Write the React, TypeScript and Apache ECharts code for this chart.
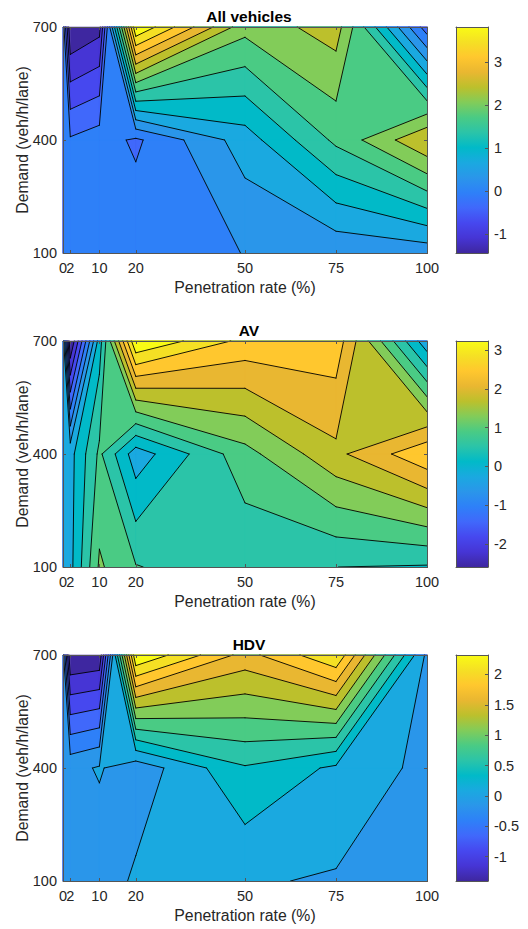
import React, { useEffect, useRef } from "react";
import * as echarts from "echarts";

const penetration = [0, 2, 10, 20, 50, 75, 100];
const demand = [100, 400, 700];
const xTicks = [0, 10, 20, 50, 75, 100];
const xTicksCrowded = [2];
const yTicks = [100, 400, 700];

// rows follow `demand`, columns follow `penetration`
const allVehicles = [
  [0.077, 0.044, 0.06, 0.126, 0.211, 0.283, 0.345],
  [0.044, -0.081, 0.044, -0.179, 0.699, 1.59, 2.484],
  [0.077, -1.43, -1.214, 3.81, 1.96, 2.33, -0.3],
];
const av = [
  [-0.262, -0.156, 1.102, 0.706, 0.378, 0.321, 0.284],
  [-0.298, -0.171, 0.757, -0.251, 0.917, 1.684, 2.43],
  [-0.226, -2.59, 0.138, 3.23, 2.393, 2.361, -0.298],
];
const hdv = [
  [-0.145, -0.168, -0.156, 0.039, 0.018, -0.028, -0.168],
  [-0.145, -0.079, 0.018, -0.158, 0.437, 0.183, -0.075],
  [-0.145, -1.4, -1.354, 2.32, 1.536, 2.064, -0.063],
];
const titles = ["All vehicles", "AV", "HDV"];
const barTicksAll = [-1, 0, 1, 2, 3];
const barTicksAv = [-2, -1, 0, 1, 2, 3];
const barTicksHdv = [-1, -0.5, 0, 0.5, 1, 1.5, 2];

const bandColors = [
  "#3e27a0", "#4635d5", "#4648ef", "#4068fb", "#2e80f8", "#2a96ea", "#1aa9e0", "#01bac8",
  "#2bc4a8", "#4acb84", "#82cc59", "#bcc02c", "#e9b731", "#ffc72e", "#f5e024", "#f9fb15",
];
const LEVEL_COUNT = 15;
const INK = "#262626";
const FRAME = "#555555";
const FONT = "'Liberation Sans', Arial, sans-serif";

type Pt = [number, number];

function levelShapes(z: number[][], level: number) {
  const polys: Pt[][] = [];
  const segs: [Pt, Pt][] = [];
  for (let j = 0; j < demand.length - 1; j++) {
    for (let i = 0; i < penetration.length - 1; i++) {
      const corners: Pt[] = [
        [penetration[i], demand[j]],
        [penetration[i + 1], demand[j]],
        [penetration[i + 1], demand[j + 1]],
        [penetration[i], demand[j + 1]],
      ];
      const vals = [z[j][i], z[j][i + 1], z[j + 1][i + 1], z[j + 1][i]];
      const high = vals.map((v) => v >= level);
      const path: Pt[] = [];
      const cross: Pt[] = [];
      for (let e = 0; e < 4; e++) {
        const n = (e + 1) % 4;
        if (high[e]) path.push(corners[e]);
        if (high[e] !== high[n]) {
          const t = (level - vals[e]) / (vals[n] - vals[e]);
          const p: Pt = [
            corners[e][0] + t * (corners[n][0] - corners[e][0]),
            corners[e][1] + t * (corners[n][1] - corners[e][1]),
          ];
          path.push(p);
          cross.push(p);
        }
      }
      if (path.length === 0) continue;
      if (cross.length === 2) {
        polys.push(path);
        segs.push([cross[0], cross[1]]);
      } else if (cross.length === 4) {
        const centre = (vals[0] + vals[1] + vals[2] + vals[3]) / 4;
        const joined = centre >= level;
        if (high[0]) {
          if (joined) {
            polys.push(path);
            segs.push([cross[0], cross[1]], [cross[2], cross[3]]);
          } else {
            polys.push([cross[3], corners[0], cross[0]], [cross[1], corners[2], cross[2]]);
            segs.push([cross[3], cross[0]], [cross[1], cross[2]]);
          }
        } else if (joined) {
          polys.push(path);
          segs.push([cross[3], cross[0]], [cross[1], cross[2]]);
        } else {
          polys.push([cross[0], corners[1], cross[1]], [cross[2], corners[3], cross[3]]);
          segs.push([cross[0], cross[1]], [cross[2], cross[3]]);
        }
      } else {
        polys.push(path);
      }
    }
  }
  return { polys, segs };
}

const axisText = { color: INK, fontFamily: FONT, fontSize: 14.5 };

function buildOption() {
  const grid: any[] = [];
  const xAxis: any[] = [];
  const yAxis: any[] = [];
  const series: any[] = [];
  const title: any[] = [];
  const panels = [
    { z: allVehicles, ticks: barTicksAll, top: 27 },
    { z: av, ticks: barTicksAv, top: 341 },
    { z: hdv, ticks: barTicksHdv, top: 655 },
  ];
  const HEIGHT = 226;
  const bounds = { outerBoundsMode: "none", containLabel: false };
  const xDomain = [penetration[0], penetration[penetration.length - 1]];
  const yDomain = [demand[0], demand[demand.length - 1]];

  panels.forEach((p, idx) => {
    const flat = p.z.flat();
    const min = Math.min(...flat);
    const max = Math.max(...flat);
    const levels = Array.from({ length: LEVEL_COUNT + 1 }, (_, k) => min + ((max - min) * k) / (LEVEL_COUNT + 1));
    const g = grid.length;

    title.push({
      text: titles[idx],
      left: 244,
      top: p.top - 24,
      textAlign: "center",
      textStyle: { color: "#000", fontFamily: FONT, fontSize: 15.5, fontWeight: "bold" },
    });

    grid.push({ left: 63, top: p.top, width: 364, height: HEIGHT, ...bounds });
    const xa = xAxis.length;
    const ya = yAxis.length;
    const tickStyle = { show: true, inside: true, length: 3, lineStyle: { color: FRAME, width: 1 } };
    const lineStyle = { show: true, onZero: false, lineStyle: { color: FRAME, width: 1 } };
    const xCommon = {
      type: "value", gridIndex: g, min: xDomain[0], max: xDomain[1], z: 30, splitLine: { show: false },
      axisLine: lineStyle,
      axisTick: { ...tickStyle, customValues: xTicks },
    };
    const yCommon = {
      type: "value", gridIndex: g, min: yDomain[0], max: yDomain[1], z: 30, splitLine: { show: false },
      axisLine: lineStyle,
      axisTick: { ...tickStyle, customValues: yTicks },
    };
    xAxis.push({
      ...xCommon, position: "bottom",
      axisLabel: { ...axisText, margin: 7, customValues: xTicks, hideOverlap: false, formatter: (v: number) => String(v) },
      name: "Penetration rate (%)", nameLocation: "middle", nameGap: 26, nameMoveOverlap: false,
      nameTextStyle: { color: INK, fontFamily: FONT, fontSize: 15.8 },
    });
    xAxis.push({ ...xCommon, position: "top", axisLabel: { show: false } });
    yAxis.push({
      ...yCommon, position: "left",
      axisLabel: { ...axisText, margin: 6, customValues: yTicks, hideOverlap: false, formatter: (v: number) => String(v) },
      name: "Demand (veh/h/lane)", nameLocation: "middle", nameGap: 33, nameMoveOverlap: false,
      nameTextStyle: { color: INK, fontFamily: FONT, fontSize: 15.8 },
    });
    yAxis.push({ ...yCommon, position: "right", axisLabel: { show: false } });

    series.push({
      type: "custom", xAxisIndex: xa, yAxisIndex: ya, z: 2, silent: true,
      data: levels.map((L, k) => [L, k]),
      renderItem: (_: any, api: any) => {
        const k = api.value(1);
        const { polys } = levelShapes(p.z, api.value(0));
        return {
          type: "group",
          children: polys.map((poly) => ({
            type: "polygon",
            shape: { points: poly.map((q) => api.coord(q)) },
            style: { fill: bandColors[k], stroke: bandColors[k], lineWidth: 0.5 },
          })),
        };
      },
    });
    series.push({
      type: "custom", xAxisIndex: xa, yAxisIndex: ya, z: 3, silent: true,
      data: levels.slice(1).map((L, k) => [L, k + 1]).concat([[min, -1]]),
      renderItem: (_: any, api: any) => {
        if (api.value(1) < 0) {
          // box round the axes, as thin filled strips over the fills
          const tl = api.coord([xDomain[0], yDomain[1]]);
          const br = api.coord([xDomain[1], yDomain[0]]);
          const strip = (x0: number, y0: number, x1: number, y1: number) => ({
            type: "polygon",
            shape: { points: [[x0, y0], [x1, y0], [x1, y1], [x0, y1]] },
            style: { fill: FRAME },
          });
          return {
            type: "group",
            children: [
              strip(tl[0], tl[1], br[0] + 1, tl[1] + 1),
              strip(tl[0], br[1], br[0] + 1, br[1] + 1),
              strip(tl[0], tl[1], tl[0] + 1, br[1] + 1),
              strip(br[0], tl[1], br[0] + 1, br[1] + 1),
            ],
          };
        }
        const { segs } = levelShapes(p.z, api.value(0));
        return {
          type: "group",
          children: segs.map(([a, b]) => {
            const s = api.coord(a);
            const e = api.coord(b);
            return {
              type: "line",
              shape: { x1: s[0], y1: s[1], x2: e[0], y2: e[1] },
              style: { stroke: "#000", lineWidth: 0.9, lineCap: "round" },
            };
          }),
        };
      },
    });

    // crowded tick label, on an overlay grid so that it may touch its neighbour
    const go = grid.length;
    grid.push({ left: 63, top: p.top, width: 364, height: HEIGHT, ...bounds });
    xAxis.push({
      type: "value", gridIndex: go, min: xDomain[0], max: xDomain[1], position: "bottom", z: 40, splitLine: { show: false },
      axisLine: { show: false },
      axisTick: { ...tickStyle, customValues: xTicksCrowded },
      axisLabel: { ...axisText, margin: 7, customValues: xTicksCrowded, formatter: (v: number) => String(v) },
    });
    xAxis.push({
      type: "value", gridIndex: go, min: xDomain[0], max: xDomain[1], position: "top", z: 40, splitLine: { show: false },
      axisLine: { show: false },
      axisTick: { ...tickStyle, customValues: xTicksCrowded },
      axisLabel: { show: false },
    });
    yAxis.push({
      type: "value", gridIndex: go, min: yDomain[0], max: yDomain[1], position: "left", show: false,
    });

    // colour bar
    const gb = grid.length;
    grid.push({ left: 456, top: p.top, width: 32, height: HEIGHT, ...bounds });
    const xb = xAxis.length;
    const yb = yAxis.length;
    xAxis.push({
      type: "value", gridIndex: gb, min: 0, max: 1, position: "bottom", z: 30, splitLine: { show: false },
      axisLine: lineStyle, axisTick: { show: false }, axisLabel: { show: false },
    });
    xAxis.push({
      type: "value", gridIndex: gb, min: 0, max: 1, position: "top", z: 30, splitLine: { show: false },
      axisLine: lineStyle, axisTick: { show: false }, axisLabel: { show: false },
    });
    yAxis.push({
      type: "value", gridIndex: gb, min, max, position: "right", z: 30, splitLine: { show: false },
      axisLine: lineStyle,
      axisTick: { ...tickStyle, customValues: p.ticks },
      axisLabel: { ...axisText, margin: 6, customValues: p.ticks, hideOverlap: false, formatter: (v: number) => String(v) },
    });
    yAxis.push({
      type: "value", gridIndex: gb, min, max, position: "left", z: 30, splitLine: { show: false },
      axisLine: lineStyle, axisTick: { show: false }, axisLabel: { show: false },
    });
    series.push({
      type: "custom", xAxisIndex: xb, yAxisIndex: yb, z: 2, silent: true,
      data: [[0, min, 1, max]],
      renderItem: (_: any, api: any) => {
        const a = api.coord([api.value(0), api.value(3)]);
        const b = api.coord([api.value(2), api.value(1)]);
        return {
          type: "rect",
          shape: { x: a[0], y: a[1], width: b[0] - a[0], height: b[1] - a[1] },
          style: {
            fill: new echarts.graphic.LinearGradient(0, 1, 0, 0,
              bandColors.map((c, i) => ({ offset: i / (bandColors.length - 1), color: c }))),
          },
        };
      },
    });
  });

  return { animation: false, backgroundColor: "#fff", title, grid, xAxis, yAxis, series };
}

export default function App() {
  const ref = useRef<HTMLDivElement>(null);
  useEffect(() => {
    document.body.style.margin = "0";
    const chart = echarts.init(ref.current!, undefined, { renderer: "svg" });
    chart.setOption(buildOption());
    return () => chart.dispose();
  }, []);
  return <div ref={ref} style={{ position: "fixed", left: 0, top: 0, width: 528, height: 929 }} />;
}
